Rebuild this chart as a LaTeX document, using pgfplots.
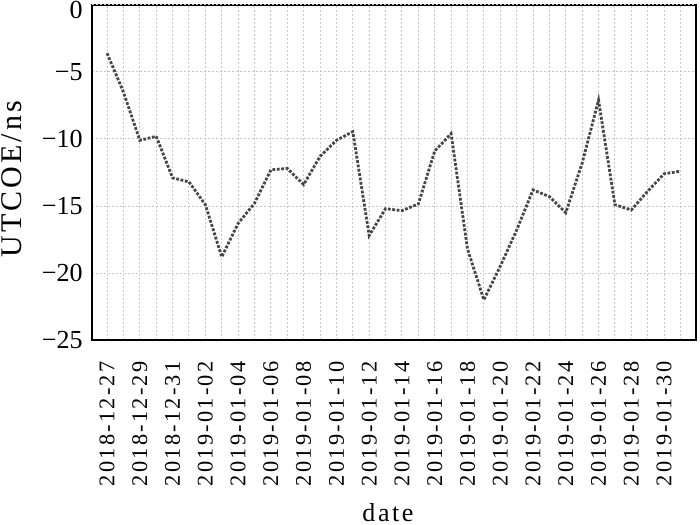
\documentclass[border=0pt]{standalone}
\usepackage{fontspec}
\setmainfont{Liberation Serif}
\usepackage{pgfplots}
\pgfplotsset{compat=1.18}
\begin{document}
\begin{tikzpicture}
\begin{axis}[
  at={(0,0)}, anchor=south west,
  scale only axis, width=302pt, height=167.5pt,
  xmin=-0.92, xmax=35.95,
  ymin=-25, ymax=0,
  axis line style={line width=1.2pt, black},
  xtick={0,2,...,34},
  xticklabels={2018-12-27,2018-12-29,2018-12-31,2019-01-02,2019-01-04,2019-01-06,2019-01-08,2019-01-10,2019-01-12,2019-01-14,2019-01-16,2019-01-18,2019-01-20,2019-01-22,2019-01-24,2019-01-26,2019-01-28,2019-01-30},
  minor xtick={1,3,...,35},
  ytick={-25,-20,-15,-10,-5},
  yticklabels={−25,−20,−15,−10,−5},
  extra y ticks={0},
  extra y tick labels={0},
  extra y tick style={yticklabel style={yshift=-2.3pt}},
  major tick length=0pt, minor tick length=0pt,
  grid=both,
  major grid style={gray!45, line width=0.5pt, dash pattern=on 1pt off 1pt},
  minor grid style={gray!45, line width=0.5pt, dash pattern=on 1pt off 1pt},
  xticklabel shift=10.5pt,
  xticklabel style={rotate=90, anchor=east, inner sep=0pt, font=\fontsize{11.2pt}{13pt}\selectfont\addfontfeature{LetterSpace=10}},
  yticklabel style={anchor=east, inner sep=0pt, xshift=-4.5pt, font=\fontsize{13pt}{15pt}\selectfont},
  xlabel={date},
  ylabel={UTCOE/ns},
  xlabel style={at={(axis description cs:0.49,-0.515)}, anchor=center, font=\fontsize{13pt}{16pt}\selectfont\addfontfeature{LetterSpace=10}},
  ylabel style={at={(axis description cs:-0.1325,0.48)}, anchor=center, rotate=0, font=\fontsize{15pt}{17pt}\selectfont\addfontfeature{LetterSpace=10}},
]
\addplot[black!72, line width=1.4pt, dash pattern=on 1.4pt off 0.8pt] coordinates {
(0,-3.6) (1,-6.5) (2,-10.1) (3,-9.8) (4,-12.9) (5,-13.2) (6,-14.9) (7,-18.8)
(8,-16.3) (9,-14.8) (10,-12.3) (11,-12.2) (12,-13.4) (13,-11.3) (14,-10.1) (15,-9.45)
(16,-17.2) (17,-15.2) (18,-15.35) (19,-14.85) (20,-10.9) (21,-9.6) (22,-18.2) (23,-22.0)
(24,-19.5) (25,-16.8) (26,-13.8) (27,-14.3) (28,-15.5) (29,-11.8) (30,-7.1) (31,-14.9)
(32,-15.3) (33,-13.9) (34,-12.6) (35,-12.4)
};
\end{axis}
\pgfresetboundingbox
\path[use as bounding box] (-46pt,-92pt) rectangle (304pt,170pt);
\end{tikzpicture}
\end{document}
